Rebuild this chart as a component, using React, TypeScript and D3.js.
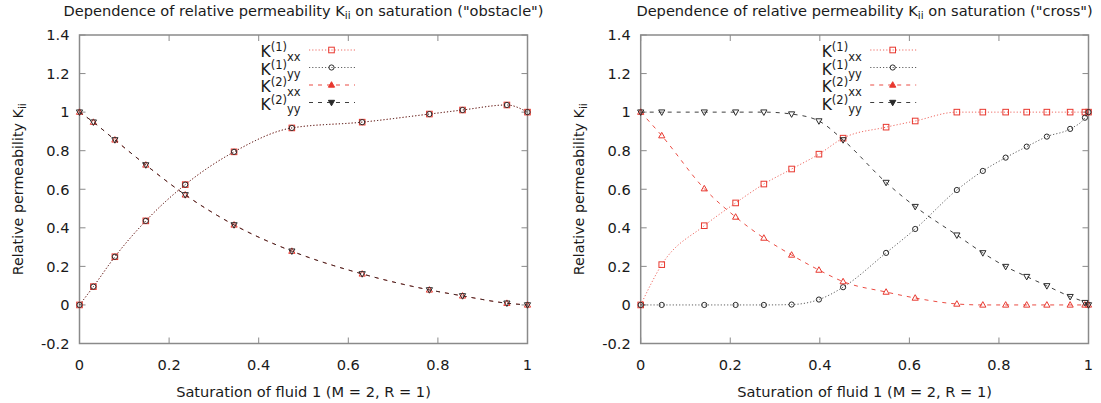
import React from "react";
import * as d3 from "d3";

// saturation samples and permeabilities
const obstacleS = [0, 0.031, 0.079, 0.148, 0.236, 0.345, 0.474, 0.631, 0.781, 0.855, 0.954, 1];
const obstacleK1xx = [0, 0.095, 0.25, 0.436, 0.624, 0.794, 0.918, 0.948, 0.99, 1.011, 1.037, 1.0];
const obstacleK1yy = [0, 0.095, 0.25, 0.436, 0.624, 0.794, 0.918, 0.948, 0.99, 1.011, 1.037, 1.0];
const obstacleK2xx = [1, 0.948, 0.856, 0.726, 0.571, 0.415, 0.279, 0.161, 0.078, 0.047, 0.009, 0];
const obstacleK2yy = [1, 0.948, 0.856, 0.726, 0.571, 0.415, 0.279, 0.161, 0.078, 0.047, 0.009, 0];

const crossS = [0, 0.047, 0.142, 0.212, 0.275, 0.337, 0.398, 0.452, 0.548, 0.613, 0.706, 0.764, 0.815, 0.862, 0.907, 0.959, 0.992, 1];
const crossK1xx = [0, 0.209, 0.411, 0.529, 0.627, 0.705, 0.782, 0.865, 0.922, 0.954, 1, 1, 1, 1, 1, 1, 1, 1];
const crossK1yy = [0, 0, 0, 0, 0, 0.002, 0.028, 0.092, 0.27, 0.394, 0.596, 0.695, 0.764, 0.821, 0.873, 0.913, 0.971, 1];
const crossK2xx = [1, 0.878, 0.603, 0.456, 0.347, 0.259, 0.181, 0.121, 0.067, 0.036, 0.005, 0, 0, 0, 0, 0, 0, 0];
const crossK2yy = [1, 1, 1, 1, 1, 0.99, 0.954, 0.856, 0.635, 0.51, 0.362, 0.27, 0.199, 0.147, 0.099, 0.043, 0.012, 0];

const xTicks = [0, 0.2, 0.4, 0.6, 0.8, 1];
const yTicks = [-0.2, 0, 0.2, 0.4, 0.6, 0.8, 1, 1.2, 1.4];

const RED = "#e8382f";
const BLACK = "#2a2a2a";
const FRAME = "#8a8a8a";
const FONT = "DejaVu Sans, sans-serif";

const styles = [
  { sup: "(1)", sub: "xx", color: RED, dash: "1.2,2", marker: "square", op: 0.75 },
  { sup: "(1)", sub: "yy", color: BLACK, dash: "1.2,2", marker: "circle", op: 0.75 },
  { sup: "(2)", sub: "xx", color: RED, dash: "4,5", marker: "up", op: 0.9 },
  { sup: "(2)", sub: "yy", color: BLACK, dash: "4,5", marker: "down", op: 0.9 },
];

const fmt = (v) => String(+v.toFixed(1));

const Marker = ({ type, x, y, color, filled }) => {
  const fill = filled ? color : "none";
  if (type === "square")
    return <rect x={x - 2.8} y={y - 2.8} width={5.6} height={5.6} fill="none" stroke={color} strokeWidth={1} />;
  if (type === "circle") return <circle cx={x} cy={y} r={2.6} fill="none" stroke={color} strokeWidth={1} />;
  if (type === "up")
    return <path d={`M${x},${y - 3.3}L${x + 3.1},${y + 2.2}L${x - 3.1},${y + 2.2}Z`} fill={fill} stroke={color} strokeWidth={1} />;
  return <path d={`M${x},${y + 3.3}L${x + 3.1},${y - 2.2}L${x - 3.1},${y - 2.2}Z`} fill={fill} stroke={color} strokeWidth={1} />;
};

const Panel = ({ x0, x1, label, s, series }) => {
  const top = 35;
  const bottom = 343.5;
  const x = d3.scaleLinear().domain([0, 1]).range([x0, x1]);
  const y = d3.scaleLinear().domain([-0.2, 1.4]).range([bottom, top]);
  const line = d3
    .line()
    .x((d) => x(d[0]))
    .y((d) => y(d[1]))
    .curve(d3.curveMonotoneX);
  const cx = (x0 + x1) / 2;
  const cy = (top + bottom) / 2;

  return (
    <g fontFamily={FONT} fill="#1a1a1a">
      <text x={cx} y={16} fontSize={14.6} textAnchor="middle">
        Dependence of relative permeability K
        <tspan fontSize={10.5} dy={3}>ii</tspan>
        <tspan dy={-3}>{` on saturation ("${label}")`}</tspan>
      </text>

      {/* frame and ticks */}
      <rect x={x0} y={top} width={x1 - x0} height={bottom - top} fill="none" stroke={FRAME} strokeWidth={1.5} />
      {xTicks.map((t) => (
        <g key={"x" + t}>
          <line x1={x(t)} x2={x(t)} y1={bottom} y2={bottom - 6} stroke={FRAME} />
          <line x1={x(t)} x2={x(t)} y1={top} y2={top + 6} stroke={FRAME} />
          <text x={x(t)} y={370} fontSize={14.6} textAnchor="middle">{fmt(t)}</text>
        </g>
      ))}
      {yTicks.map((t) => (
        <g key={"y" + t}>
          <line x1={x0} x2={x0 + 6} y1={y(t)} y2={y(t)} stroke={FRAME} />
          <line x1={x1} x2={x1 - 6} y1={y(t)} y2={y(t)} stroke={FRAME} />
          <text x={x0 - 10} y={y(t)} dy="0.36em" fontSize={14.6} textAnchor="end">{fmt(t)}</text>
        </g>
      ))}

      <text x={cx} y={397} fontSize={14.6} textAnchor="middle">Saturation of fluid 1 (M = 2, R = 1)</text>
      <text transform={`translate(${x0 - 57},${cy}) rotate(-90)`} fontSize={14.3} textAnchor="middle">
        Relative permeability K<tspan fontSize={10.5} dy={3}>ii</tspan>
      </text>

      {/* curves */}
      {series.map((vals, i) => {
        const st = styles[i];
        const pts = s.map((v, j) => [v, vals[j]]);
        return (
          <g key={"s" + i}>
            <path d={line(pts)} fill="none" stroke={st.color} strokeOpacity={st.op} strokeWidth={1} strokeDasharray={st.dash} />
            {pts.map((p, j) => (
              <Marker key={j} type={st.marker} x={x(p[0])} y={y(p[1])} color={st.color} filled={false} />
            ))}
          </g>
        );
      })}

      {/* legend */}
      {styles.map((st, i) => {
        const ry = 50 + i * 17.5;
        return (
          <g key={"l" + i}>
            <text x={x0 + 181} y={ry + 7} fontSize={15.5}>
              K<tspan fontSize={11.5} dy={-6}>{st.sup}</tspan>
              <tspan fontSize={11.5} dy={9.5}>{st.sub}</tspan>
            </text>
            <line x1={x0 + 229.5} x2={x0 + 275.5} y1={ry} y2={ry} stroke={st.color} strokeOpacity={st.op} strokeDasharray={st.dash} />
            <Marker type={st.marker} x={x0 + 252} y={ry} color={st.color} filled={true} />
          </g>
        );
      })}
    </g>
  );
}

export default function App() {
  return (
    <svg width={1101} height={403} style={{ position: "absolute", left: 0, top: 0, background: "#fff" }}>
      <rect width={1101} height={403} fill="#fff" />
      <Panel
        x0={79.5}
        x1={527.5}
        label="obstacle"
        s={obstacleS}
        series={[obstacleK1xx, obstacleK1yy, obstacleK2xx, obstacleK2yy]}
      />
      <Panel
        x0={640.7}
        x1={1088.5}
        label="cross"
        s={crossS}
        series={[crossK1xx, crossK1yy, crossK2xx, crossK2yy]}
      />
    </svg>
  );
}
